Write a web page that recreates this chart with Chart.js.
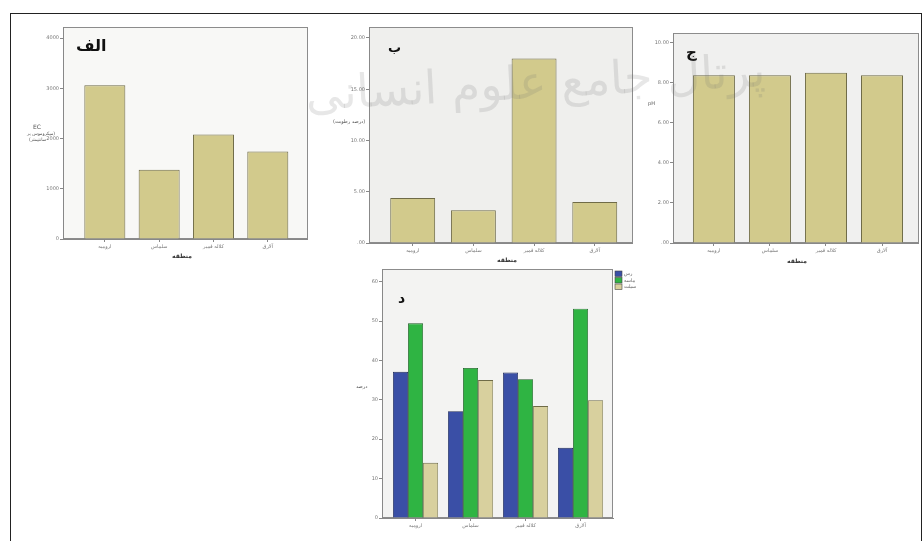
<!DOCTYPE html>
<html>
<head>
<meta charset="utf-8">
<script src="https://cdn.jsdelivr.net/npm/chart.js@4.4.0/dist/chart.umd.min.js"></script>
<style>
  body { margin: 0; background: #fff; width: 923px; height: 541px; overflow: hidden; position: relative; font-family: "DejaVu Sans", sans-serif; }
  .box { position: absolute; }
  .t { position: absolute; color: #555; font-size: 6px; direction: rtl; white-space: nowrap; }
  .letter { position: absolute; font-weight: bold; color: #111; direction: rtl; }
  #frame { position: absolute; left: 10px; top: 13px; width: 910px; height: 540px; border: 1.5px solid #222; border-bottom: none; }
  #mark { position: absolute; left: 305px; top: 55px; font-size: 46px; color: rgba(110,110,110,0.17); direction: rtl; transform: rotate(-3deg); pointer-events: none; z-index: 5; }
</style>
</head>
<body>
<div id="frame"></div>

<div class="box" style="left:18px;top:23px;width:290px;height:230px"><canvas id="c1"></canvas></div>
<div class="box" style="left:324px;top:23px;width:309px;height:234px"><canvas id="c2"></canvas></div>
<div class="box" style="left:628px;top:29px;width:291px;height:228px"><canvas id="c3"></canvas></div>
<div class="box" style="left:337px;top:265px;width:311px;height:267px"><canvas id="c4"></canvas></div>

<div class="letter" style="left:76px;top:36px;font-size:16px">الف</div>
<div class="letter" style="left:388px;top:40px;font-size:13px">ب</div>
<div class="letter" style="left:686px;top:43px;font-size:15px">ج</div>
<div class="letter" style="left:398px;top:290px;font-size:14px">د</div>

<div class="t" style="left:33px;top:123px;direction:ltr">EC</div>
<div class="t" style="left:27px;top:131px;font-size:4.5px">(میکروموس بر</div>
<div class="t" style="left:29px;top:137px;font-size:4.5px">سانتیمتر)</div>
<div class="t" style="left:333px;top:118px;font-size:5px">(درصد رطوبت)</div>
<div class="t" style="left:648px;top:100px;direction:ltr;font-size:5px">pH</div>
<div class="t" style="left:356px;top:383px;font-size:5px">درصد</div>

<div class="t" style="left:172px;top:252px;font-weight:bold;color:#333">منطقه</div>
<div class="t" style="left:497px;top:256px;font-weight:bold;color:#333">منطقه</div>
<div class="t" style="left:787px;top:257px;font-weight:bold;color:#333">منطقه</div>

<div id="mark">پرتال جامع علوم انسانی</div>

<script>
const regions = ['ارومیه', 'سلماس', 'کلاله قمیر', 'آلارق'];

const ecValues = [3060, 1380, 2080, 1740];
const moistureValues = [4.4, 3.2, 18.0, 4.0];
const phValues = [8.38, 8.38, 8.5, 8.38];

const textureLabels = ['رس', 'ماسه', 'سیلت'];
const clayValues = [37.1, 27.1, 36.9, 17.8];
const sandValues = [49.4, 38.1, 35.2, 53.1];
const siltValues = [14.0, 35.0, 28.4, 29.9];

const ecTicks = [0, 1000, 2000, 3000, 4000];
const moistTicks = [0, 5, 10, 15, 20];
const phTicks = [0, 2, 4, 6, 8, 10];
const textureTicks = [0, 10, 20, 30, 40, 50, 60];

const tickFont = { family: 'DejaVu Sans', size: 5 };

function points(vals) {
  return vals.map((v, i) => ({ x: i, y: v }));
}

// SPSS style ".00", "5.00"
function spssFmt(v) {
  return v === 0 ? '.00' : v.toFixed(2);
}

// plot background + frame
const plotBox = {
  id: 'plotBox',
  beforeDraw(chart, args, opts) {
    const a = chart.chartArea, c = chart.ctx;
    c.save();
    c.fillStyle = opts.bg;
    c.fillRect(a.left, a.top, a.right - a.left, a.bottom - a.top);
    c.strokeStyle = '#8c8c8c';
    c.lineWidth = 1;
    c.strokeRect(a.left + 0.5, a.top + 0.5, a.right - a.left - 1, a.bottom - a.top - 1);
    c.restore();
  }
};

// small legend to the right of the plot
const sideLegend = {
  id: 'sideLegend',
  afterDraw(chart, args, opts) {
    if (!opts.show) return;
    const a = chart.chartArea, c = chart.ctx;
    c.save();
    chart.data.datasets.forEach((ds, i) => {
      const y = a.top + 2 + i * 6.5;
      c.fillStyle = ds.backgroundColor;
      c.fillRect(a.right + 2, y, 7, 5.5);
      c.strokeStyle = '#444';
      c.lineWidth = 0.6;
      c.strokeRect(a.right + 2, y, 7, 5.5);
      c.fillStyle = '#666';
      c.font = '5px "DejaVu Sans"';
      c.textBaseline = 'middle';
      c.textAlign = 'left';
      c.fillText(ds.label, a.right + 11, y + 3);
    });
    c.restore();
  }
};

function makeChart(id, datasets, o) {
  return new Chart(document.getElementById(id), {
    type: 'bar',
    data: { datasets: datasets },
    plugins: [plotBox, sideLegend],
    options: {
      responsive: true,
      maintainAspectRatio: false,
      animation: false,
      layout: { padding: { right: o.padRight || 0 } },
      datasets: { bar: { categoryPercentage: o.catPct, barPercentage: o.barPct } },
      plugins: {
        legend: { display: false },
        tooltip: { enabled: false },
        plotBox: { bg: o.bg },
        sideLegend: { show: !!o.legend }
      },
      scales: {
        x: {
          type: 'linear',
          bounds: 'data',
          offset: false,
          min: o.xMin, max: o.xMax,
          afterBuildTicks: s => { s.ticks = regions.map((r, i) => ({ value: i })); },
          afterFit: s => { s.height = 14; },
          grid: { display: true, offset: false, drawOnChartArea: false, tickLength: 3, color: '#888' },
          border: { color: '#888' },
          ticks: {
            autoSkip: false, maxRotation: 0,
            padding: 2, font: tickFont, color: '#777',
            callback: v => regions[v]
          }
        },
        y: {
          bounds: 'data',
          min: 0, max: o.yMax,
          afterBuildTicks: s => { s.ticks = o.yTicks.map(v => ({ value: v })); },
          afterFit: s => { s.width = 45; },
          grid: { display: true, drawOnChartArea: false, tickLength: 3, color: '#888' },
          border: { color: '#888' },
          ticks: {
            autoSkip: false, padding: 1,
            font: tickFont, color: '#777',
            callback: o.yLabel
          }
        }
      }
    }
  });
}

const tan = '#d2ca8c', tanEdge = '#6f6b47';

makeChart('c1', [{ data: points(ecValues), backgroundColor: tan, borderColor: tanEdge, borderWidth: 1 }], {
  xMin: -0.77, xMax: 3.74, yMax: 4220, yTicks: ecTicks, catPct: 1, barPct: 0.755, bg: '#f8f8f6',
  yLabel: v => v
});

makeChart('c2', [{ data: points(moistureValues), backgroundColor: tan, borderColor: tanEdge, borderWidth: 1 }], {
  xMin: -0.72, xMax: 3.63, yMax: 21.07, yTicks: moistTicks, catPct: 1, barPct: 0.74, bg: '#efefed',
  yLabel: spssFmt
});

makeChart('c3', [{ data: points(phValues), backgroundColor: tan, borderColor: tanEdge, borderWidth: 1 }], {
  xMin: -0.73, xMax: 3.66, yMax: 10.49, yTicks: phTicks, catPct: 1, barPct: 0.75, bg: '#f0f0ef',
  yLabel: spssFmt
});

makeChart('c4', [
  { label: textureLabels[0], data: points(clayValues), backgroundColor: '#3a4fa6', borderColor: '#1f2a5a', borderWidth: 0.8 },
  { label: textureLabels[1], data: points(sandValues), backgroundColor: '#2fb443', borderColor: '#1a5a22', borderWidth: 0.8 },
  { label: textureLabels[2], data: points(siltValues), backgroundColor: '#d8d09e', borderColor: '#6f6b47', borderWidth: 0.8 }
], {
  xMin: -0.61, xMax: 3.59, yMax: 63.2, yTicks: textureTicks, catPct: 0.82, barPct: 1, bg: '#f3f3f2',
  padRight: 35, legend: true,
  yLabel: v => v
});
</script>
</body>
</html>
